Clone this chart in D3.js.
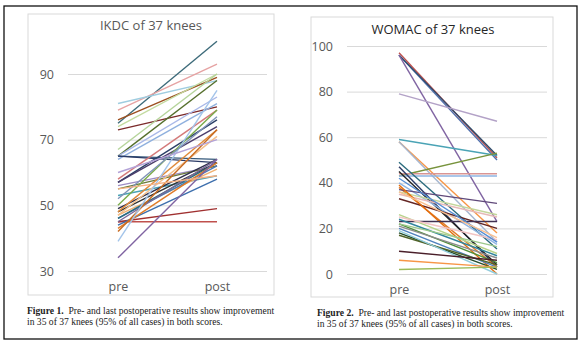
<!DOCTYPE html>
<html>
<head>
<meta charset="utf-8">
<script src="https://cdn.jsdelivr.net/npm/d3@7"></script>
<style>
  body { margin: 0; background: #fff; }
  text { font-family: "Open Sans", "Noto Sans", sans-serif; }
  .cap { font-family: "Liberation Serif", "DejaVu Serif", serif; fill: #222; }
</style>
</head>
<body>
<div id="vis"></div>
<script>
let cats = ['pre', 'post'];

// IKDC scores, pre and post, one entry per knee
let ikdcPre = [75, 79, 81, 76, 74, 73, 65, 65, 64, 65, 65, 67, 58, 57, 57, 56, 55, 53, 50, 49,
  48, 48, 47, 47, 46, 46, 45, 45, 45, 44, 43, 42, 39, 34, 52, 60, 55];
let ikdcPost = [100, 93, 88, 89, 90, 80, 88, 83, 81, 64, 63, 90, 79, 76, 74, 62, 62, 59, 79, 64,
  63, 73, 61, 71, 62, 63, 45, 49, 64, 58, 63, 73, 85, 64, 77, 70, 59];
let ikdcTicks = [30, 50, 70, 90];
let ikdcColors = ['#3d6b7a', '#e6a3a3', '#9fcde0', '#9c4f1f', '#c3dba0', '#7b2a2a', '#56702d', '#a9b8e8',
  '#8fb0de', '#34587a', '#2b3a66', '#b5d49a', '#d47a7a', '#2b3f66', '#4b3d6b', '#9c8cc4',
  '#6b7a3a', '#4aa3b5', '#7aab4a', '#2d2d4a', '#333333', '#e08a3a', '#f0b070', '#f5c08a',
  '#4a7ab5', '#2b6c7e', '#c0504d', '#a03030', '#7a6a9a', '#3d6fad', '#e07b28', '#c86b20',
  '#a3c4ea', '#8064a2', '#7f93b8', '#b3a2d7', '#f4b183'];

// WOMAC scores, pre and post
let womacPre = [97, 96, 96, 96, 79, 59, 58, 58, 43, 44, 43, 49, 47, 45, 40, 38, 37, 36, 35, 33,
  39, 23, 26, 25, 24, 22, 21, 20, 18, 17, 19, 10, 6, 2, 42, 36, 22];
let womacPost = [51, 50, 52, 23, 67, 52, 18, 14, 53, 44, 43, 11, 3, 4, 13, 3, 31, 26, 25, 20,
  0, 23, 9, 15, 8, 5, 7, 3, 2, 4, 0, 6, 3, 3, 14, 16, 12];
let womacTicks = [0, 20, 40, 60, 80, 100];
let womacColors = ['#c0504d', '#4f6fad', '#2d4a6a', '#8064a2', '#b3a2c7', '#4aa3b5', '#f79646', '#a5b6d0',
  '#77933c', '#d99594', '#8eb4e3', '#2b6c7e', '#2b3a66', '#222222', '#8fb4e3', '#e07b28',
  '#60497a', '#c3d69b', '#e6b9b8', '#632523', '#e46c0a', '#403151', '#b7d38a', '#f2c4c4',
  '#31859c', '#4f8f3a', '#8c8c8c', '#4f81bd', '#254d2a', '#4f6228', '#93cddd', '#4a1f2a',
  '#f79646', '#9bbb59', '#558ed5', '#fac090', '#9bc88a'];

let W = 582, H = 343;
let svg = d3.select('#vis').append('svg')
  .attr('width', W).attr('height', H);

// outer frame
svg.append('rect')
  .attr('x', 4).attr('y', 6).attr('width', 573).attr('height', 333)
  .attr('fill', 'none').attr('stroke', '#111').attr('stroke-width', 1.3);

function drawPanel(o) {
  let g = svg.append('g');

  g.append('rect')
    .attr('x', o.box[0]).attr('y', o.box[1])
    .attr('width', o.box[2] - o.box[0]).attr('height', o.box[3] - o.box[1])
    .attr('fill', '#fff').attr('stroke', '#d9d9d9').attr('stroke-width', 1);

  let y = d3.scaleLinear().domain(o.domain).range(o.yRange);
  let x = d3.scalePoint().domain(cats).range(o.xRange);

  // gridlines + tick labels
  let yAxis = g.append('g')
    .attr('transform', `translate(${o.gridX[0]},0)`)
    .call(d3.axisLeft(y).tickValues(o.ticks).tickSize(o.gridX[0] - o.gridX[1]).tickPadding(o.pad));
  yAxis.select('.domain').remove();
  yAxis.selectAll('line').attr('stroke', '#d9d9d9');
  yAxis.selectAll('text').attr('fill', '#595959').style('font-size', '12.5px')
    .style('font-family', '"Open Sans", sans-serif');

  let xAxis = g.append('g')
    .attr('transform', `translate(0,${o.yRange[0]})`)
    .call(d3.axisBottom(x).tickSize(0).tickPadding(o.xPad));
  xAxis.select('.domain').remove();
  xAxis.selectAll('text').attr('fill', '#595959').style('font-size', '12.5px')
    .style('font-family', '"Open Sans", sans-serif');

  // one line per knee
  let line = d3.line().x(d => x(d[0])).y(d => y(d[1]));
  g.selectAll('path.knee')
    .data(o.pre.map((v, i) => [['pre', v], ['post', o.post[i]]]))
    .join('path')
    .attr('class', 'knee')
    .attr('d', line)
    .attr('fill', 'none')
    .attr('stroke', (d, i) => o.colors[i % o.colors.length])
    .attr('stroke-width', 1.4);

  g.append('text')
    .attr('x', o.title[0]).attr('y', o.title[1])
    .attr('text-anchor', 'middle')
    .attr('fill', o.titleColor)
    .style('font-size', '13px')
    .text(o.titleText);

  let cap = g.append('text').attr('class', 'cap').style('font-size', '9.6px');
  cap.append('tspan').attr('x', o.cap[0]).attr('y', o.cap[1])
    .style('font-weight', 'bold').text(o.figLabel);
  cap.append('tspan').text('\u00a0\u00a0Pre- and last postoperative results show improvement');
  cap.append('tspan').attr('x', o.cap[0]).attr('dy', 10.5)
    .text('in 35 of 37 knees (95% of all cases) in both  scores.');
}

drawPanel({
  box: [28, 14, 274, 295],
  domain: [30, 90], yRange: [271, 74],
  xRange: [118, 217],
  gridX: [68, 267], pad: 14, xPad: 11,
  ticks: ikdcTicks,
  pre: ikdcPre, post: ikdcPost, colors: ikdcColors,
  title: [151, 30], titleText: 'IKDC of 37 knees', titleColor: '#595959',
  cap: [27, 314], figLabel: 'Figure 1.'
});

drawPanel({
  box: [311, 17, 553, 297],
  domain: [0, 100], yRange: [274, 46],
  xRange: [399, 497],
  gridX: [347, 547], pad: 14, xPad: 11,
  ticks: womacTicks,
  pre: womacPre, post: womacPost, colors: womacColors,
  title: [433, 34], titleText: 'WOMAC of 37 knees', titleColor: '#262626',
  cap: [317, 316], figLabel: 'Figure 2.'
});
</script>
</body>
</html>
